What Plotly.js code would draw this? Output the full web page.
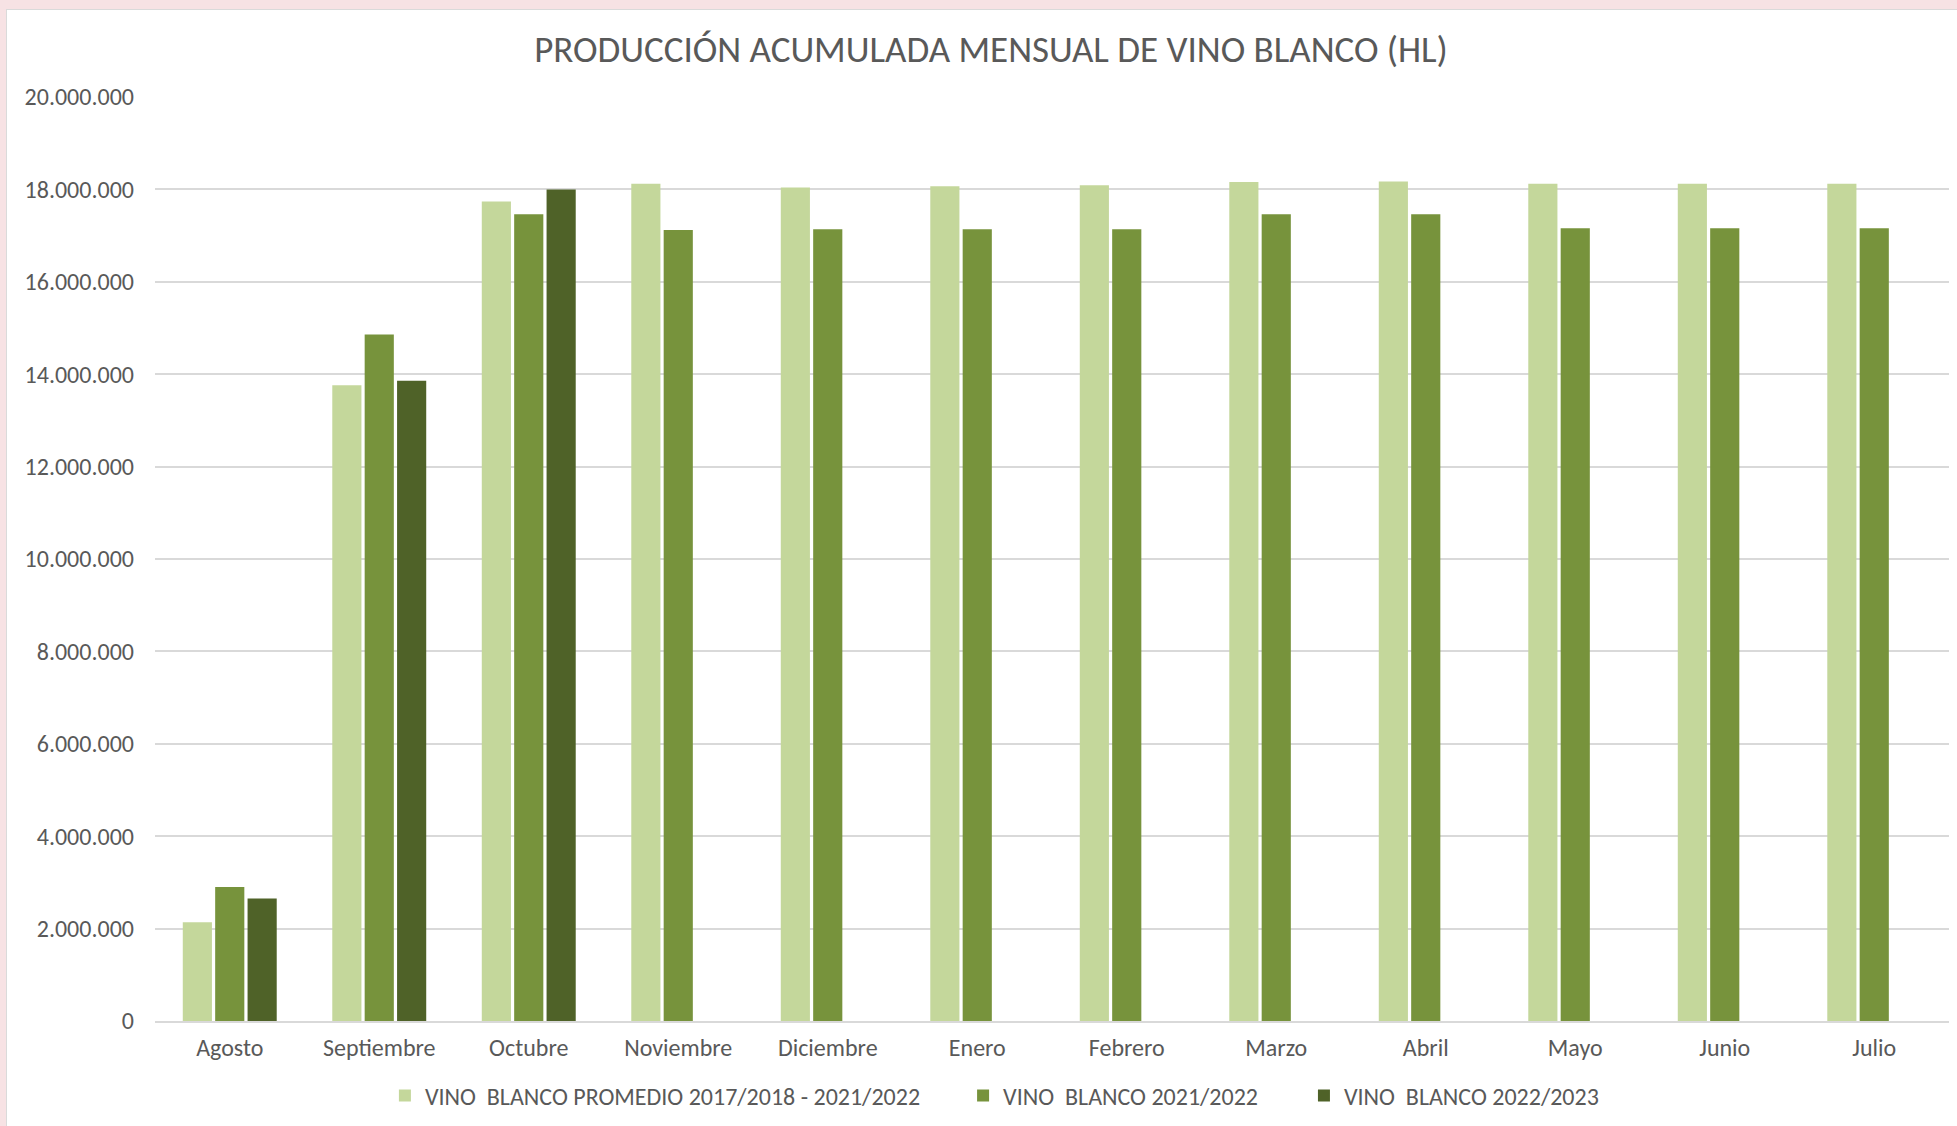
<!DOCTYPE html>
<html>
<head>
<meta charset="utf-8">
<script src="https://cdn.plot.ly/plotly-3.0.1.min.js"></script>
<style>
  html, body { margin: 0; padding: 0; background: #F7E2E4; width: 1957px; height: 1126px; overflow: hidden; }
  #wrap { position: absolute; left: 6px; top: 9px; width: 1951px; height: 1117px; background: #fff;
          border-left: 1px solid #DADADA; border-top: 1px solid #DADADA; }
  #chart { width: 1950px; height: 1116px; }
</style>
</head>
<body>
<div id="wrap"><div id="chart"></div></div>
<script>
const months = ["Agosto", "Septiembre", "Octubre", "Noviembre", "Diciembre", "Enero",
                "Febrero", "Marzo", "Abril", "Mayo", "Junio", "Julio"];
const promedio = [2140000, 13760000, 17740000, 18120000, 18040000, 18070000,
                  18090000, 18160000, 18170000, 18120000, 18120000, 18120000];
const v2122 = [2900000, 14860000, 17460000, 17120000, 17140000, 17140000,
               17140000, 17460000, 17460000, 17160000, 17160000, 17160000];
const v2223 = [2650000, 13860000, 18000000, null, null, null,
               null, null, null, null, null, null];
const seriesNames = ["VINO\u00a0\u00a0BLANCO PROMEDIO 2017/2018 - 2021/2022",
                     "VINO\u00a0\u00a0BLANCO 2021/2022",
                     "VINO\u00a0\u00a0BLANCO 2022/2023"];
const yTicks = [0, 2000000, 4000000, 6000000, 8000000, 10000000, 12000000, 14000000, 16000000, 18000000, 20000000];
const yTickText = ["0", "2.000.000", "4.000.000", "6.000.000", "8.000.000", "10.000.000",
                   "12.000.000", "14.000.000", "16.000.000", "18.000.000", "20.000.000"];

const colors = ["#C4D79B", "#77933C", "#4F6228"];
const font = "Calibri, Carlito, 'Liberation Sans', Arial, sans-serif";
const legendIds = ["legend", "legend2", "legend3"];
const legendX = [0.1938, 0.4903, 0.6651];

const traces = [promedio, v2122, v2223].map((vals, i) => ({
  type: "bar",
  x: months,
  y: vals,
  name: seriesNames[i],
  legend: legendIds[i],
  marker: { color: colors[i], line: { width: 0 } },
  hoverinfo: "x+y+name"
}));

function legendDef(i) {
  return {
    orientation: "h",
    xref: "container", yref: "container",
    x: legendX[i], xanchor: "left",
    y: 1 - 1086 / 1116, yanchor: "middle",
    bgcolor: "rgba(0,0,0,0)",
    font: { family: font, size: 24, color: "#595959" }
  };
}

const layout = {
  width: 1950,
  height: 1116,
  paper_bgcolor: "#ffffff",
  plot_bgcolor: "#ffffff",
  font: { family: font, color: "#595959", size: 24 },
  title: {
    text: "PRODUCCIÓN ACUMULADA MENSUAL DE VINO BLANCO (HL)",
    font: { family: font, size: 37, color: "#595959" },
    xref: "container", yref: "container",
    x: 984 / 1950, xanchor: "center",
    y: 1 - 39 / 1116, yanchor: "middle"
  },
  margin: { l: 148, r: 8, t: 87, b: 105, autoexpand: false },
  barmode: "group",
  bargap: 0.35,
  bargroupgap: 0.1,
  xaxis: {
    type: "category",
    showgrid: false,
    showline: true,
    linecolor: "#D9D9D9",
    linewidth: 2,
    ticks: "",
    tickfont: { family: font, size: 24, color: "#595959" },
    ticklabelstandoff: 4
  },
  yaxis: {
    range: [0, 20000000],
    tickvals: yTicks,
    ticktext: yTickText,
    showgrid: true,
    gridcolor: "#D9D9D9",
    gridwidth: 2,
    zeroline: false,
    showline: false,
    ticks: "",
    tickfont: { family: font, size: 24, color: "#595959" },
    ticklabelstandoff: 20
  },
  showlegend: true,
  legend: legendDef(0),
  legend2: legendDef(1),
  legend3: legendDef(2)
};

Plotly.newPlot("chart", traces, layout, { displayModeBar: false, staticPlot: true });
</script>
</body>
</html>
